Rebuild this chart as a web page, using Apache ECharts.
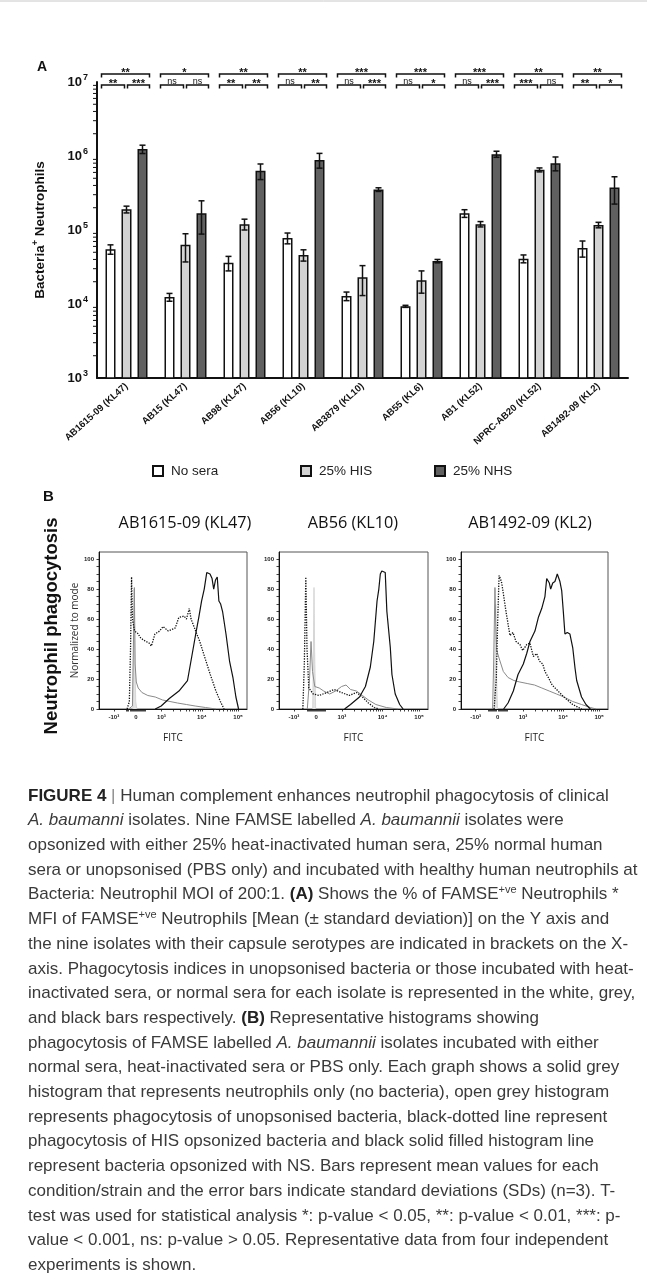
<!DOCTYPE html>
<html>
<head>
<meta charset="utf-8">
<style>
  html, body { margin: 0; padding: 0; background: #fff; }
  #chart { width: 647px; height: 1283px; }
</style>
<script src="https://cdn.jsdelivr.net/npm/echarts@6.0.0/dist/echarts.min.js"></script>
</head>
<body>
<div id="chart"></div>
<script>
// ---- Panel A data ----
const isolates = ['AB1615-09 (KL47)', 'AB15 (KL47)', 'AB98 (KL47)', 'AB56 (KL10)', 'AB3879 (KL10)',
  'AB55 (KL6)', 'AB1 (KL52)', 'NPRC-AB20 (KL52)', 'AB1492-09 (KL2)'];
const noSeraMean = [55000, 12400, 36000, 78000, 12800, 9300, 168000, 41000, 57000];
const noSeraSD = [8000, 1500, 8000, 13000, 1700, 300, 20000, 5000, 14000];
const hisMean = [190000, 63000, 120000, 46000, 23000, 21000, 120000, 650000, 117000];
const hisSD = [20000, 26000, 20000, 8000, 10000, 7000, 10000, 40000, 10000];
const nhsMean = [1240000, 168000, 630000, 885000, 352000, 38000, 1060000, 800000, 374000];
const nhsSD = [160000, 80000, 150000, 200000, 20000, 2000, 100000, 170000, 150000];
const sigNoVsNhs = ['**', '*', '**', '**', '***', '***', '***', '**', '**'];
const sigNoVsHis = ['**', 'ns', '**', 'ns', 'ns', 'ns', 'ns', '***', '**'];
const sigHisVsNhs = ['***', 'ns', '**', '**', '***', '*', '***', 'ns', '*'];
const legendNames = ['No sera', '25% HIS', '25% NHS'];

// ---- Panel B data (x in display channels 0..1000, y = % of mode) ----
const histTitles = ['AB1615-09 (KL47)', 'AB56 (KL10)', 'AB1492-09 (KL2)'];
const fitcTickPos = [100, 250, 422, 695, 940];
const fitcTickText = ['-10³', '0', '10³', '10⁴', '10⁵'];
const modeTicks = [0, 20, 40, 60, 80, 100];

const neutOnly1 = [[228, 0], [234, 40], [238, 80], [242, 40], [248, 5], [256, 0]];
const unops1 = [[200, 0], [226, 2], [232, 40], [239, 81], [244, 30], [252, 18], [265, 14], [290, 11], [330, 9],
  [380, 8], [430, 6], [480, 5], [530, 4], [590, 3], [650, 2], [720, 1], [790, 0]];
const his1 = [[190, 0], [205, 5], [213, 40], [220, 88], [226, 60], [240, 52], [267, 50], [275, 48], [300, 46],
  [338, 44], [354, 42], [366, 46], [378, 50], [410, 52], [433, 55], [468, 52], [515, 54], [539, 61], [574, 62],
  [591, 60], [610, 67], [622, 60], [634, 61], [657, 51], [681, 45], [716, 34], [752, 23], [790, 12], [820, 5], [845, 0]];
const nhs1 = [[380, 0], [420, 2], [475, 7], [540, 12], [598, 19], [634, 39], [657, 52], [674, 61], [693, 72],
  [711, 80], [728, 91], [738, 92], [750, 90], [764, 87], [775, 80], [787, 86], [799, 88], [810, 72], [822, 70],
  [835, 65], [858, 50], [882, 32], [905, 21], [925, 8], [943, 0]];

const neutOnly2 = [[226, 0], [231, 40], [235, 81], [239, 40], [246, 0]];
const unops2 = [[190, 0], [205, 20], [215, 45], [225, 25], [240, 15], [270, 14], [300, 12], [340, 10], [380, 12],
  [420, 15], [450, 16], [480, 13], [520, 12], [560, 9], [600, 6], [650, 3], [720, 1], [800, 0]];
const his2 = [[160, 0], [170, 30], [180, 88], [188, 40], [200, 14], [230, 10], [270, 9], [320, 11], [370, 13],
  [420, 11], [470, 9], [520, 11], [560, 8], [600, 4], [640, 1], [670, 0]];
const nhs2 = [[440, 0], [480, 3], [540, 8], [580, 15], [613, 28], [636, 45], [658, 72], [670, 80], [680, 90],
  [690, 92], [700, 91], [713, 91], [724, 65], [747, 41], [758, 23], [780, 10], [810, 3], [833, 0]];

const neutOnly3 = [[226, 0], [232, 40], [236, 70], [240, 30], [248, 0]];
const unops3 = [[215, 0], [222, 30], [231, 81], [237, 55], [243, 39], [265, 32], [288, 25], [320, 21], [360, 19],
  [400, 18], [450, 17], [500, 16], [550, 14], [600, 12], [650, 10], [700, 8], [760, 5], [820, 3], [880, 1], [920, 0]];
const his3 = [[225, 0], [240, 20], [250, 60], [259, 89], [268, 87], [277, 84], [288, 77], [306, 65], [333, 49],
  [354, 51], [374, 45], [401, 43], [420, 39], [447, 43], [469, 44], [492, 35], [515, 37], [533, 32], [556, 30],
  [571, 25], [594, 21], [620, 16], [660, 12], [700, 8], [760, 3], [820, 0]];
const nhs3 = [[290, 0], [320, 4], [356, 12], [388, 23], [424, 30], [447, 37], [469, 45], [503, 52], [526, 61],
  [549, 67], [571, 75], [583, 87], [601, 84], [610, 80], [624, 84], [639, 85], [655, 90], [673, 85], [685, 79],
  [696, 65], [707, 50], [723, 51], [741, 50], [760, 41], [776, 27], [787, 19], [820, 8], [850, 3], [880, 0]];

const captionLines = [
  '{b|FIGURE 4} {bar||} Human complement enhances neutrophil phagocytosis of clinical',
  '{i|A. baumanni} isolates. Nine FAMSE labelled {i|A. baumannii} isolates were',
  'opsonized with either 25% heat-inactivated human sera, 25% normal human',
  'sera or unopsonised (PBS only) and incubated with healthy human neutrophils at',
  'Bacteria: Neutrophil MOI of 200:1. {b|(A)} Shows the % of FAMSE{s|+ve} Neutrophils *',
  'MFI of FAMSE{s|+ve} Neutrophils [Mean (± standard deviation)] on the Y axis and',
  'the nine isolates with their capsule serotypes are indicated in brackets on the X-',
  'axis. Phagocytosis indices in unopsonised bacteria or those incubated with heat-',
  'inactivated sera, or normal sera for each isolate is represented in the white, grey,',
  'and black bars respectively. {b|(B)} Representative histograms showing',
  'phagocytosis of FAMSE labelled {i|A. baumannii} isolates incubated with either',
  'normal sera, heat-inactivated sera or PBS only. Each graph shows a solid grey',
  'histogram that represents neutrophils only (no bacteria), open grey histogram',
  'represents phagocytosis of unopsonised bacteria, black-dotted line represent',
  'phagocytosis of HIS opsonized bacteria and black solid filled histogram line',
  'represent bacteria opsonized with NS. Bars represent mean values for each',
  'condition/strain and the error bars indicate standard deviations (SDs) (n=3). T-',
  'test was used for statistical analysis *: p-value < 0.05, **: p-value < 0.01, ***: p-',
  'value < 0.001, ns: p-value > 0.05. Representative data from four independent',
  'experiments is shown.'
];

// ---- layout / style constants ----
const ARIAL = 'Liberation Sans, Arial, sans-serif';
const CAP_SIZE = 17;
const BAR_W = 10;
const BAR_STEP = 16;
const Y_MIN = 1e3, Y_MAX = 1e7;
const barColors = ['#ffffff', '#d3d3d3', '#606060'];
const histBoxes = [{ left: 99, width: 148 }, { left: 279, width: 149 }, { left: 461, width: 147 }];
const histTitleX = [185, 353, 530];
const legendLeft = [147, 295, 429];

const chart = echarts.init(document.getElementById('chart'), null, { renderer: 'canvas' });

function renderErr(params, api) {
  const cat = api.value(0), mean = api.value(1), sd = api.value(2), k = api.value(3);
  const x = api.coord([cat, mean])[0] + (k - 1) * BAR_STEP;
  const yHi = api.coord([cat, mean + sd])[1];
  const yLo = api.coord([cat, mean - sd])[1];
  const st = { stroke: '#111', lineWidth: 1.5 };
  return {
    type: 'group',
    children: [
      { type: 'line', shape: { x1: x, y1: yHi, x2: x, y2: yLo }, style: st },
      { type: 'line', shape: { x1: x - 3, y1: yHi, x2: x + 3, y2: yHi }, style: st },
      { type: 'line', shape: { x1: x - 3, y1: yLo, x2: x + 3, y2: yLo }, style: st }
    ]
  };
}

function bracket(a, b, y, txt) {
  const stars = txt !== 'ns';
  return [
    { type: 'polyline', shape: { points: [[a, y + 3.5], [a, y], [b, y], [b, y + 3.5]] },
      style: { stroke: '#111', lineWidth: 1.5, fill: null } },
    { type: 'text', x: (a + b) / 2, y: stars ? y + 4 : y + 1,
      style: { text: txt, textAlign: 'center', textVerticalAlign: 'bottom', fill: '#111',
        font: (stars ? 'bold 11px ' : '9px ') + ARIAL } }
  ];
}

function renderSig(params, api) {
  const i = params.dataIndex;
  const c = api.coord([api.value(0), Y_MAX]);
  const x = c[0], top = c[1];
  return {
    type: 'group',
    children: [].concat(
      bracket(x - 25, x + 23, top - 8, sigNoVsNhs[i]),
      bracket(x - 25, x - 2, top + 3, sigNoVsHis[i]),
      bracket(x + 1, x + 23, top + 3, sigHisVsNhs[i])
    )
  };
}

function renderMinor(params, api) {
  const y = api.coord([0, api.value(1)])[1];
  const x = params.coordSys.x;
  return { type: 'line', shape: { x1: x - 4, y1: y, x2: x, y2: y }, style: { stroke: '#111', lineWidth: 1 } };
}

const minorVals = [];
for (let d = 3; d < 7; d++) for (let m = 2; m <= 9; m++) minorVals.push([0, m * Math.pow(10, d)]);

const errData = [];
[[noSeraMean, noSeraSD], [hisMean, hisSD], [nhsMean, nhsSD]].forEach(([m, s], k) => {
  m.forEach((v, i) => errData.push([i, v, s[i], k]));
});

const barSeries = [noSeraMean, hisMean, nhsMean].map((vals, k) => ({
  name: legendNames[k], type: 'bar', xAxisIndex: 0, yAxisIndex: 0,
  barWidth: BAR_W, barGap: '60%', clip: true,
  itemStyle: { color: barColors[k], borderColor: '#111', borderWidth: 1.5 },
  data: vals
}));

const histSets = [[neutOnly1, unops1, his1, nhs1], [neutOnly2, unops2, his2, nhs2], [neutOnly3, unops3, his3, nhs3]];
const histSeries = [];
histSets.forEach((set, g) => {
  const ax = g + 1;
  histSeries.push(
    { type: 'line', xAxisIndex: ax, yAxisIndex: ax, data: set[0], symbol: 'none', z: 1,
      lineStyle: { color: '#cfcfcf', width: 0.8 }, areaStyle: { color: '#e2e2e2', opacity: 1 } },
    { type: 'line', xAxisIndex: ax, yAxisIndex: ax, data: set[1], symbol: 'none', z: 2,
      lineStyle: { color: '#8a8a8a', width: 1 } },
    { type: 'line', xAxisIndex: ax, yAxisIndex: ax, data: set[2], symbol: 'none', z: 3,
      lineStyle: { color: '#111', width: 1.3, type: 'dotted' } },
    { type: 'line', xAxisIndex: ax, yAxisIndex: ax, data: set[3], symbol: 'none', z: 4,
      lineStyle: { color: '#111', width: 1.2 } }
  );
});

const fitcMinor = [];
fitcTickPos.forEach(p => fitcMinor.push(p));
[2, 3, 4, 5, 6, 7, 8, 9].forEach(m => {
  fitcMinor.push(422 + 273 * Math.log10(m));
  fitcMinor.push(695 + 245 * Math.log10(m));
});
for (let j = 1; j < 10; j++) { fitcMinor.push(250 + j * 7); fitcMinor.push(250 - j * 7); }

const histX = histBoxes.map((b, g) => ({
  type: 'value', gridIndex: g + 1, min: 0, max: 1000,
  name: 'FITC', nameLocation: 'middle', nameGap: 24,
  nameTextStyle: { fontFamily: 'Open Sans, sans-serif', fontSize: 10, color: '#222' },
  axisLine: { lineStyle: { color: '#111', width: 1 } },
  axisTick: { customValues: fitcMinor, length: 2.5, lineStyle: { color: '#111', width: 0.8 } },
  axisLabel: {
    customValues: fitcTickPos, fontSize: 6, fontWeight: 'bold', color: '#222', margin: 5,
    formatter: v => fitcTickText[fitcTickPos.indexOf(v)]
  },
  splitLine: { show: false }
}));

const histY = histBoxes.map((b, g) => ({
  type: 'value', gridIndex: g + 1, min: 0, max: 104.7,
  name: g === 0 ? 'Normalized to mode' : '', nameLocation: 'middle', nameGap: 15, nameRotate: 90,
  nameTextStyle: { fontFamily: 'Open Sans, sans-serif', fontSize: 10, color: '#333' },
  axisLine: { show: true, lineStyle: { color: '#111', width: 1 } },
  axisTick: { customValues: [0, 5, 10, 15, 20, 25, 30, 35, 40, 45, 50, 55, 60, 65, 70, 75, 80, 85, 90, 95, 100],
    length: 2.5, lineStyle: { color: '#111', width: 0.8 } },
  axisLabel: { customValues: modeTicks, fontSize: 6, fontWeight: 'bold', color: '#222', margin: 5 },
  splitLine: { show: false }
}));

const graphics = [
  { type: 'line', shape: { x1: 0, y1: 1, x2: 647, y2: 1 }, style: { stroke: '#c8c8c8', lineWidth: 1 } },
  { type: 'text', x: 37, y: 67, style: { text: 'A', font: 'bold 14px ' + ARIAL, fill: '#111', textVerticalAlign: 'middle' } },
  { type: 'text', x: 43, y: 497, style: { text: 'B', font: 'bold 15px ' + ARIAL, fill: '#111', textVerticalAlign: 'middle' } },
  { type: 'text', x: 52, y: 626, rotation: Math.PI / 2,
    style: { text: 'Neutrophil phagocytosis', font: 'bold 18.5px ' + ARIAL, fill: '#111',
      textAlign: 'center', textVerticalAlign: 'middle' } }
];
histTitles.forEach((t, g) => graphics.push({
  type: 'text', x: histTitleX[g], y: 523,
  style: { text: t, font: '16.3px Open Sans, sans-serif', fill: '#111', textAlign: 'center', textVerticalAlign: 'middle' }
}));
captionLines.forEach((line, i) => graphics.push({
  type: 'text', x: 28, y: 796 + i * 24.7,
  style: {
    text: line, textVerticalAlign: 'middle', font: CAP_SIZE + 'px ' + ARIAL, fill: '#3a3a3a',
    rich: {
      b: { fontWeight: 'bold', fontSize: CAP_SIZE, fontFamily: ARIAL, fill: '#222' },
      i: { fontStyle: 'italic', fontSize: CAP_SIZE, fontFamily: ARIAL, fill: '#3a3a3a' },
      s: { fontSize: 11, fontFamily: ARIAL, fill: '#3a3a3a', padding: [0, 0, 10, 0] },
      bar: { fontSize: CAP_SIZE, fontFamily: ARIAL, fill: '#888' }
    }
  }
}));

const option = {
  animation: false,
  backgroundColor: '#fff',
  legend: legendNames.map((n, k) => ({
    data: [n], left: legendLeft[k], top: 459, icon: 'rect', itemWidth: 10, itemHeight: 10, itemGap: 8,
    selectedMode: false, textStyle: { fontFamily: ARIAL, fontSize: 13.5, color: '#222', padding: [0, 0, 0, 3] }
  })),
  grid: [
    { left: 97, top: 82, width: 531, height: 296 },
    ...histBoxes.map(b => ({ left: b.left, top: 552, width: b.width, height: 157, show: true,
      borderColor: '#555', borderWidth: 1, backgroundColor: 'transparent' }))
  ],
  xAxis: [
    {
      type: 'category', gridIndex: 0, data: isolates,
      axisLine: { lineStyle: { color: '#111', width: 2 } },
      axisTick: { alignWithLabel: true, length: 5, lineStyle: { color: '#111', width: 1.5 } },
      axisLabel: { interval: 0, rotate: 42, fontFamily: ARIAL, fontSize: 9.5, fontWeight: 'bold', color: '#111', margin: 7 }
    },
    ...histX
  ],
  yAxis: [
    {
      type: 'log', gridIndex: 0, logBase: 10, min: Y_MIN, max: Y_MAX,
      name: '{n|Bacteria}{s|+}{n| Neutrophils}', nameLocation: 'middle', nameGap: 48, nameRotate: 90,
      nameTextStyle: { rich: {
        n: { fontFamily: ARIAL, fontSize: 13.5, fontWeight: 'bold', color: '#111' },
        s: { fontFamily: ARIAL, fontSize: 9, fontWeight: 'bold', color: '#111', padding: [0, 0, 9, 0] }
      } },
      axisLine: { show: true, lineStyle: { color: '#111', width: 2 } },
      axisTick: { length: 7, lineStyle: { color: '#111', width: 1.5 } },
      splitLine: { show: false },
      axisLabel: {
        margin: 9,
        formatter: v => '{b|10}{s|' + Math.round(Math.log10(v)) + '}',
        rich: {
          b: { fontFamily: ARIAL, fontSize: 13, fontWeight: 'bold', color: '#111' },
          s: { fontFamily: ARIAL, fontSize: 9, fontWeight: 'bold', color: '#111', padding: [0, 0, 8, 1] }
        }
      }
    },
    ...histY
  ],
  series: [
    ...barSeries,
    { type: 'custom', xAxisIndex: 0, yAxisIndex: 0, renderItem: renderErr, data: errData,
      encode: { x: 0, y: 1 }, z: 5, silent: true },
    { type: 'custom', xAxisIndex: 0, yAxisIndex: 0, renderItem: renderSig,
      data: isolates.map((n, i) => [i, Y_MAX]), encode: { x: 0, y: 1 }, z: 5, silent: true, clip: false },
    { type: 'custom', xAxisIndex: 0, yAxisIndex: 0, renderItem: renderMinor, data: minorVals,
      encode: { x: 0, y: 1 }, z: 5, silent: true, clip: false },
    ...histSeries
  ],
  graphic: graphics
};

chart.setOption(option);
window.addEventListener('resize', () => chart.resize());
</script>
</body>
</html>
